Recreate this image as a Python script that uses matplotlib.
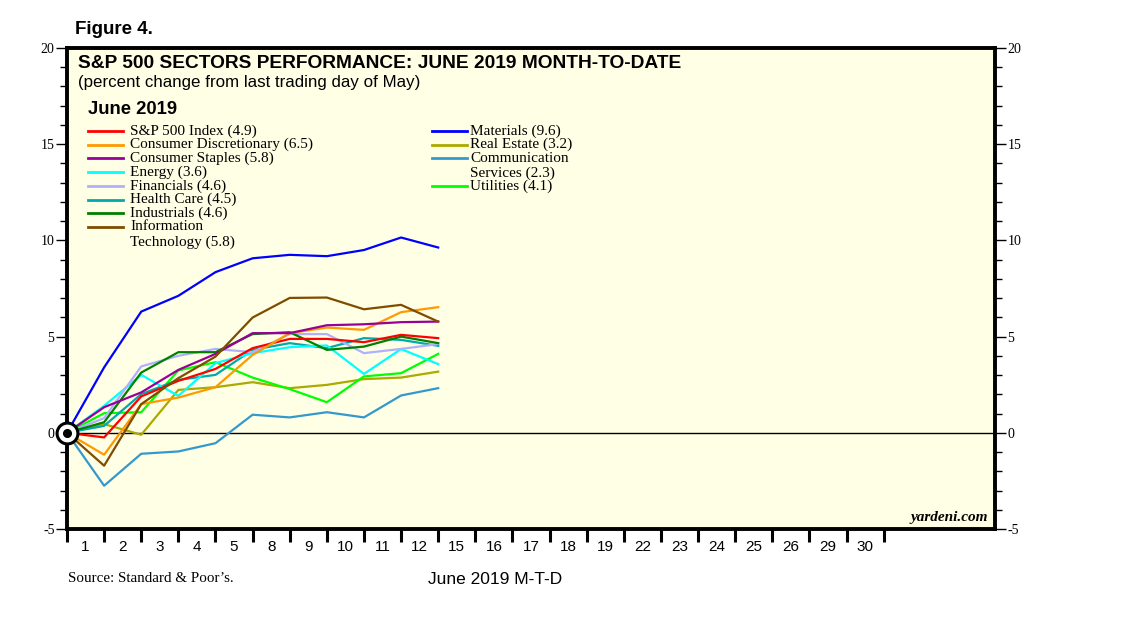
import numpy as np
import matplotlib
matplotlib.use("Agg")
import matplotlib.pyplot as plt

plt.rcParams["axes.unicode_minus"] = False

# trading days shown on the x axis
day_labels = ["1", "2", "3", "4", "5", "8", "9", "10", "11", "12", "15", "16",
              "17", "18", "19", "22", "23", "24", "25", "26", "29", "30"]

# percent change since last trading day of May (first point = 0)
sp500 = [0, -0.24, 1.89, 2.70, 3.32, 4.40, 4.88, 4.88, 4.71, 5.09, 4.92]
cons_disc = [0, -1.14, 1.49, 1.83, 2.37, 4.05, 5.18, 5.47, 5.35, 6.27, 6.53]
cons_staples = [0, 1.33, 2.10, 3.27, 4.10, 5.18, 5.18, 5.59, 5.64, 5.75, 5.78]
energy = [0, 1.40, 3.01, 1.92, 3.62, 4.14, 4.45, 4.54, 3.06, 4.35, 3.57]
financials = [0, 0.76, 3.45, 4.00, 4.36, 4.19, 5.13, 5.13, 4.14, 4.36, 4.61]
health_care = [0, 0.36, 2.01, 2.75, 3.01, 4.31, 4.66, 4.40, 4.92, 4.83, 4.52]
industrials = [0, 0.55, 3.13, 4.19, 4.19, 5.13, 5.23, 4.31, 4.48, 5.00, 4.66]
info_tech = [0, -1.71, 1.49, 2.84, 3.96, 5.99, 7.01, 7.03, 6.42, 6.65, 5.78]
materials = [0, 3.40, 6.30, 7.12, 8.35, 9.07, 9.25, 9.18, 9.50, 10.15, 9.63]
real_estate = [0, 0.45, -0.10, 2.23, 2.37, 2.63, 2.32, 2.49, 2.79, 2.87, 3.18]
comm_services = [0, -2.75, -1.09, -0.97, -0.54, 0.94, 0.80, 1.07, 0.80, 1.94, 2.32]
utilities = [0, 1.02, 1.07, 3.24, 3.67, 2.87, 2.27, 1.59, 2.93, 3.10, 4.10]

left_col = [
    ("S&P 500 Index (4.9)", sp500, "#ff0000"),
    ("Consumer Discretionary (6.5)", cons_disc, "#ff9900"),
    ("Consumer Staples (5.8)", cons_staples, "#990099"),
    ("Energy (3.6)", energy, "#00ffff"),
    ("Financials (4.6)", financials, "#b0b0ff"),
    ("Health Care (4.5)", health_care, "#00aaaa"),
    ("Industrials (4.6)", industrials, "#008000"),
    ("Information\nTechnology (5.8)", info_tech, "#7f4c00"),
]
right_col = [
    ("Materials (9.6)", materials, "#0000ff"),
    ("Real Estate (3.2)", real_estate, "#aaaa00"),
    ("Communication\nServices (2.3)", comm_services, "#3399cc"),
    ("Utilities (4.1)", utilities, "#00ff00"),
]

W, H = 1138, 621
fig = plt.figure(figsize=(W / 100, H / 100), dpi=100)
ax = fig.add_axes([67 / W, 1 - 529 / H, (995 - 67) / W, (529 - 48) / H])
ax.set_facecolor("#ffffe5")

x = np.arange(len(sp500))
draw_order = [comm_services, real_estate, utilities, health_care, energy,
              financials, industrials, sp500, cons_disc, cons_staples,
              info_tech, materials]
colors = {id(s): c for _, s, c in left_col + right_col}
ax.axhline(0, color="black", lw=1, zorder=1)
for s in draw_order:
    ax.plot(x, s, color=colors[id(s)], lw=1.6, zorder=2)

# origin marker
ax.plot([0], [0], "o", ms=15, mfc="white", mec="black", mew=2.2,
        clip_on=False, zorder=5)
ax.plot([0], [0], "o", ms=5.5, color="black", clip_on=False, zorder=6)

ax.set_xlim(0, 25)
ax.set_ylim(-5, 20)

for sp in ax.spines.values():
    sp.set_linewidth(2.8)

# x axis: boundary ticks, labels centred between them
ax.set_xticks(np.arange(len(day_labels) + 1))
ax.set_xticklabels([])
ax.set_xticks(np.arange(len(day_labels)) + 0.5, minor=True)
ax.set_xticklabels(day_labels, minor=True, fontfamily="Liberation Sans",
                   fontsize=11)
ax.tick_params(axis="x", which="major", direction="out", length=9, width=2.2)
ax.tick_params(axis="x", which="minor", length=0, pad=8)

# y axis both sides
ax.set_yticks([-5, 0, 5, 10, 15, 20])
ax.set_yticks(np.arange(-5, 21, 1), minor=True)
ax.tick_params(axis="y", which="both", direction="out", left=True, right=True,
               labelleft=True, labelright=True, width=1)
ax.tick_params(axis="y", which="major", length=8, labelsize=10, pad=1)
ax.tick_params(axis="y", which="minor", length=5)
for lab in ax.get_yticklabels():
    lab.set_fontfamily("Liberation Serif")


def fx(px):
    return px / W


def fy(py):
    return 1 - py / H


sans = "Liberation Sans"
serif = "Liberation Serif"
fig.text(fx(75), fy(30), "Figure 4.", fontfamily=sans, fontweight="bold",
         fontsize=13.5, va="center")
fig.text(fx(78), fy(63), "S&P 500 SECTORS PERFORMANCE: JUNE 2019 MONTH-TO-DATE",
         fontfamily=sans, fontweight="bold", fontsize=13.8, va="center")
fig.text(fx(78), fy(82), "(percent change from last trading day of May)",
         fontfamily=sans, fontsize=12.2, va="center")
fig.text(fx(88), fy(110), "June 2019", fontfamily=sans, fontweight="bold",
         fontsize=13.3, va="center")

# hand-placed legend, two columns
row_h = 13.7
for col, (lx, tx) in zip([left_col, right_col], [(88, 130), (432, 470)]):
    row = 0.0
    for label, _, c in col:
        py = 131 + row * row_h
        fig.add_artist(plt.Line2D([fx(lx), fx(lx + 35)], [fy(py), fy(py)],
                                  color=c, lw=2, transform=fig.transFigure))
        lines = label.split("\n")
        fig.text(fx(tx), fy(py), lines[0], fontfamily=serif, fontsize=11,
                 va="center")
        if len(lines) > 1:
            fig.text(fx(tx), fy(py + 1.12 * row_h), lines[1], fontfamily=serif,
                     fontsize=11, va="center")
            row += 1
        row += 1

fig.text(fx(988), fy(518), "yardeni.com", fontfamily=serif, fontstyle="italic",
         fontweight="bold", fontsize=11, ha="right", va="center")
fig.text(fx(68), fy(578), "Source: Standard & Poor\u2019s.", fontfamily=serif,
         fontsize=10.8, va="center")
fig.text(fx(495), fy(580), "June 2019 M-T-D", fontfamily=sans, fontsize=12.5,
         ha="center", va="center")

fig.savefig("out.png", dpi=100)
